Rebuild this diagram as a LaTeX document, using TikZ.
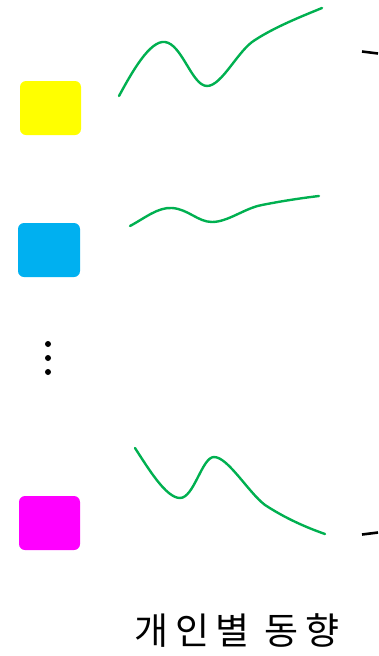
\documentclass[tikz,border=0pt]{standalone}
\usepackage{fontspec}
\newfontfamily\krfont[LetterSpace=18]{Noto Sans CJK KR}
\definecolor{cyellow}{HTML}{FFFF00}
\definecolor{cblue}{HTML}{00B0F0}
\definecolor{cmag}{HTML}{FF00FF}
\definecolor{cgreen}{HTML}{00B050}
\begin{document}
\begin{tikzpicture}[x=1pt,y=-1pt,
  sq/.style={rounded corners=6pt},
  trend/.style={cgreen,line width=2.4pt,line join=round,line cap=round},
  tick/.style={black,line width=2.6pt},
  dotmark/.style={circle,fill=black,inner sep=0pt,minimum size=6pt}]
\useasboundingbox (0,0) rectangle (378,656);
% squares
\fill[sq,cyellow] (20,81) rectangle (81,135);
\fill[sq,cblue] (18,223) rectangle (80,277);
\fill[sq,cmag] (19,496) rectangle (80,550);
% dots
\node[dotmark] (d1) at (48,344) {};
\node[dotmark] (d2) at (48,358) {};
\node[dotmark] (d3) at (48,372) {};
% trend curves
\draw[trend] (119,96) .. controls (132,72) and (150,40) .. (165,42)
  .. controls (182,44) and (192,86) .. (207,86)
  .. controls (222,86) and (238,50) .. (255,40)
  .. controls (275,27) and (300,17) .. (322,8);
\draw[trend] (130,226) .. controls (145,218) and (158,207) .. (172,208)
  .. controls (188,209) and (198,222) .. (212,222)
  .. controls (228,222) and (245,208) .. (262,205)
  .. controls (282,201) and (302,198) .. (319,196);
\draw[trend] (135,448) .. controls (148,468) and (166,498) .. (180,498)
  .. controls (194,498) and (202,457) .. (214,457)
  .. controls (228,457) and (248,492) .. (265,505)
  .. controls (285,518) and (305,527) .. (325,534);
% brace fragments
\coordinate (b1) at (362,51.5);
\coordinate (b2) at (378,53.5);
\coordinate (b3) at (362,534.5);
\coordinate (b4) at (378,532.5);
\draw[tick] (b1) -- (b2);
\draw[tick] (b3) -- (b4);
% label
\node[font=\krfont\fontsize{37}{42}\selectfont,inner sep=0pt] (lbl) at (237,631) {개인별 동향};
\end{tikzpicture}
\end{document}
